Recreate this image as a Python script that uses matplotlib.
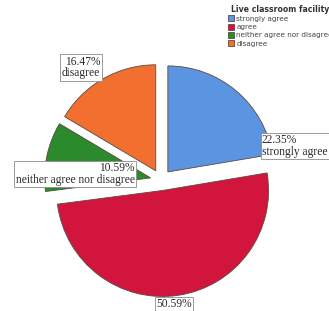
import matplotlib
matplotlib.use('Agg')
import matplotlib.pyplot as plt

categories = ['strongly agree', 'agree', 'neither agree nor disagree', 'disagree']
percents = [22.35, 50.59, 10.59, 16.47]
colors = ['#5b94e0', '#d2153c', '#2b8a2b', '#f26f2f']
title = 'Live classroom facility'

W, H = 329, 311
R = 106
fig = plt.figure(figsize=(W / 100, H / 100), dpi=100)
ax = fig.add_axes([0, 0, 1, 1])

wedges, _ = ax.pie(percents, colors=colors, startangle=90, counterclock=False,
                   explode=[0.1 * R] * 4, radius=R, center=(161, H - 180),
                   wedgeprops=dict(edgecolor='#5a4a40', linewidth=0.6))
ax.set_xlim(0, W)
ax.set_ylim(0, H)
ax.set_aspect('equal')
ax.axis('off')

box = dict(boxstyle='square,pad=0.12', fc='white', ec='#8c8c8c', lw=0.6)
font = dict(family='Liberation Serif', fontsize=8.3, color='#2a2a2a')

ax.text(81, H - 67.5, '%.2f%%\n%s' % (percents[3], categories[3]), ha='center', va='center',
        multialignment='right', linespacing=0.95, bbox=box, **font)
ax.text(75, H - 174, '%.2f%%\n%s' % (percents[2], categories[2]), ha='center', va='center',
        multialignment='right', linespacing=0.95, bbox=box, **font)
ax.text(262, H - 146, '%.2f%%\n%s' % (percents[0], categories[0]), ha='left', va='center',
        multialignment='left', linespacing=0.95, bbox=box, **font)
ax.text(174, H - 304, '%.2f%%' % percents[1], ha='center', va='center', bbox=box, **font)

leg = ax.legend(wedges, categories, title=title, loc='upper left',
                bbox_to_anchor=(224 / W, 1 - 1 / H), bbox_transform=fig.transFigure,
                frameon=False, fontsize=5.2, title_fontsize=5.6,
                handlelength=0.9, handleheight=0.9, handletextpad=0.3,
                labelspacing=0.25, borderpad=0)
leg.get_title().set_fontweight('bold')
leg.get_title().set_color('#333333')
for t in leg.get_texts():
    t.set_color('#444444')

fig.savefig('out.png', dpi=100)
